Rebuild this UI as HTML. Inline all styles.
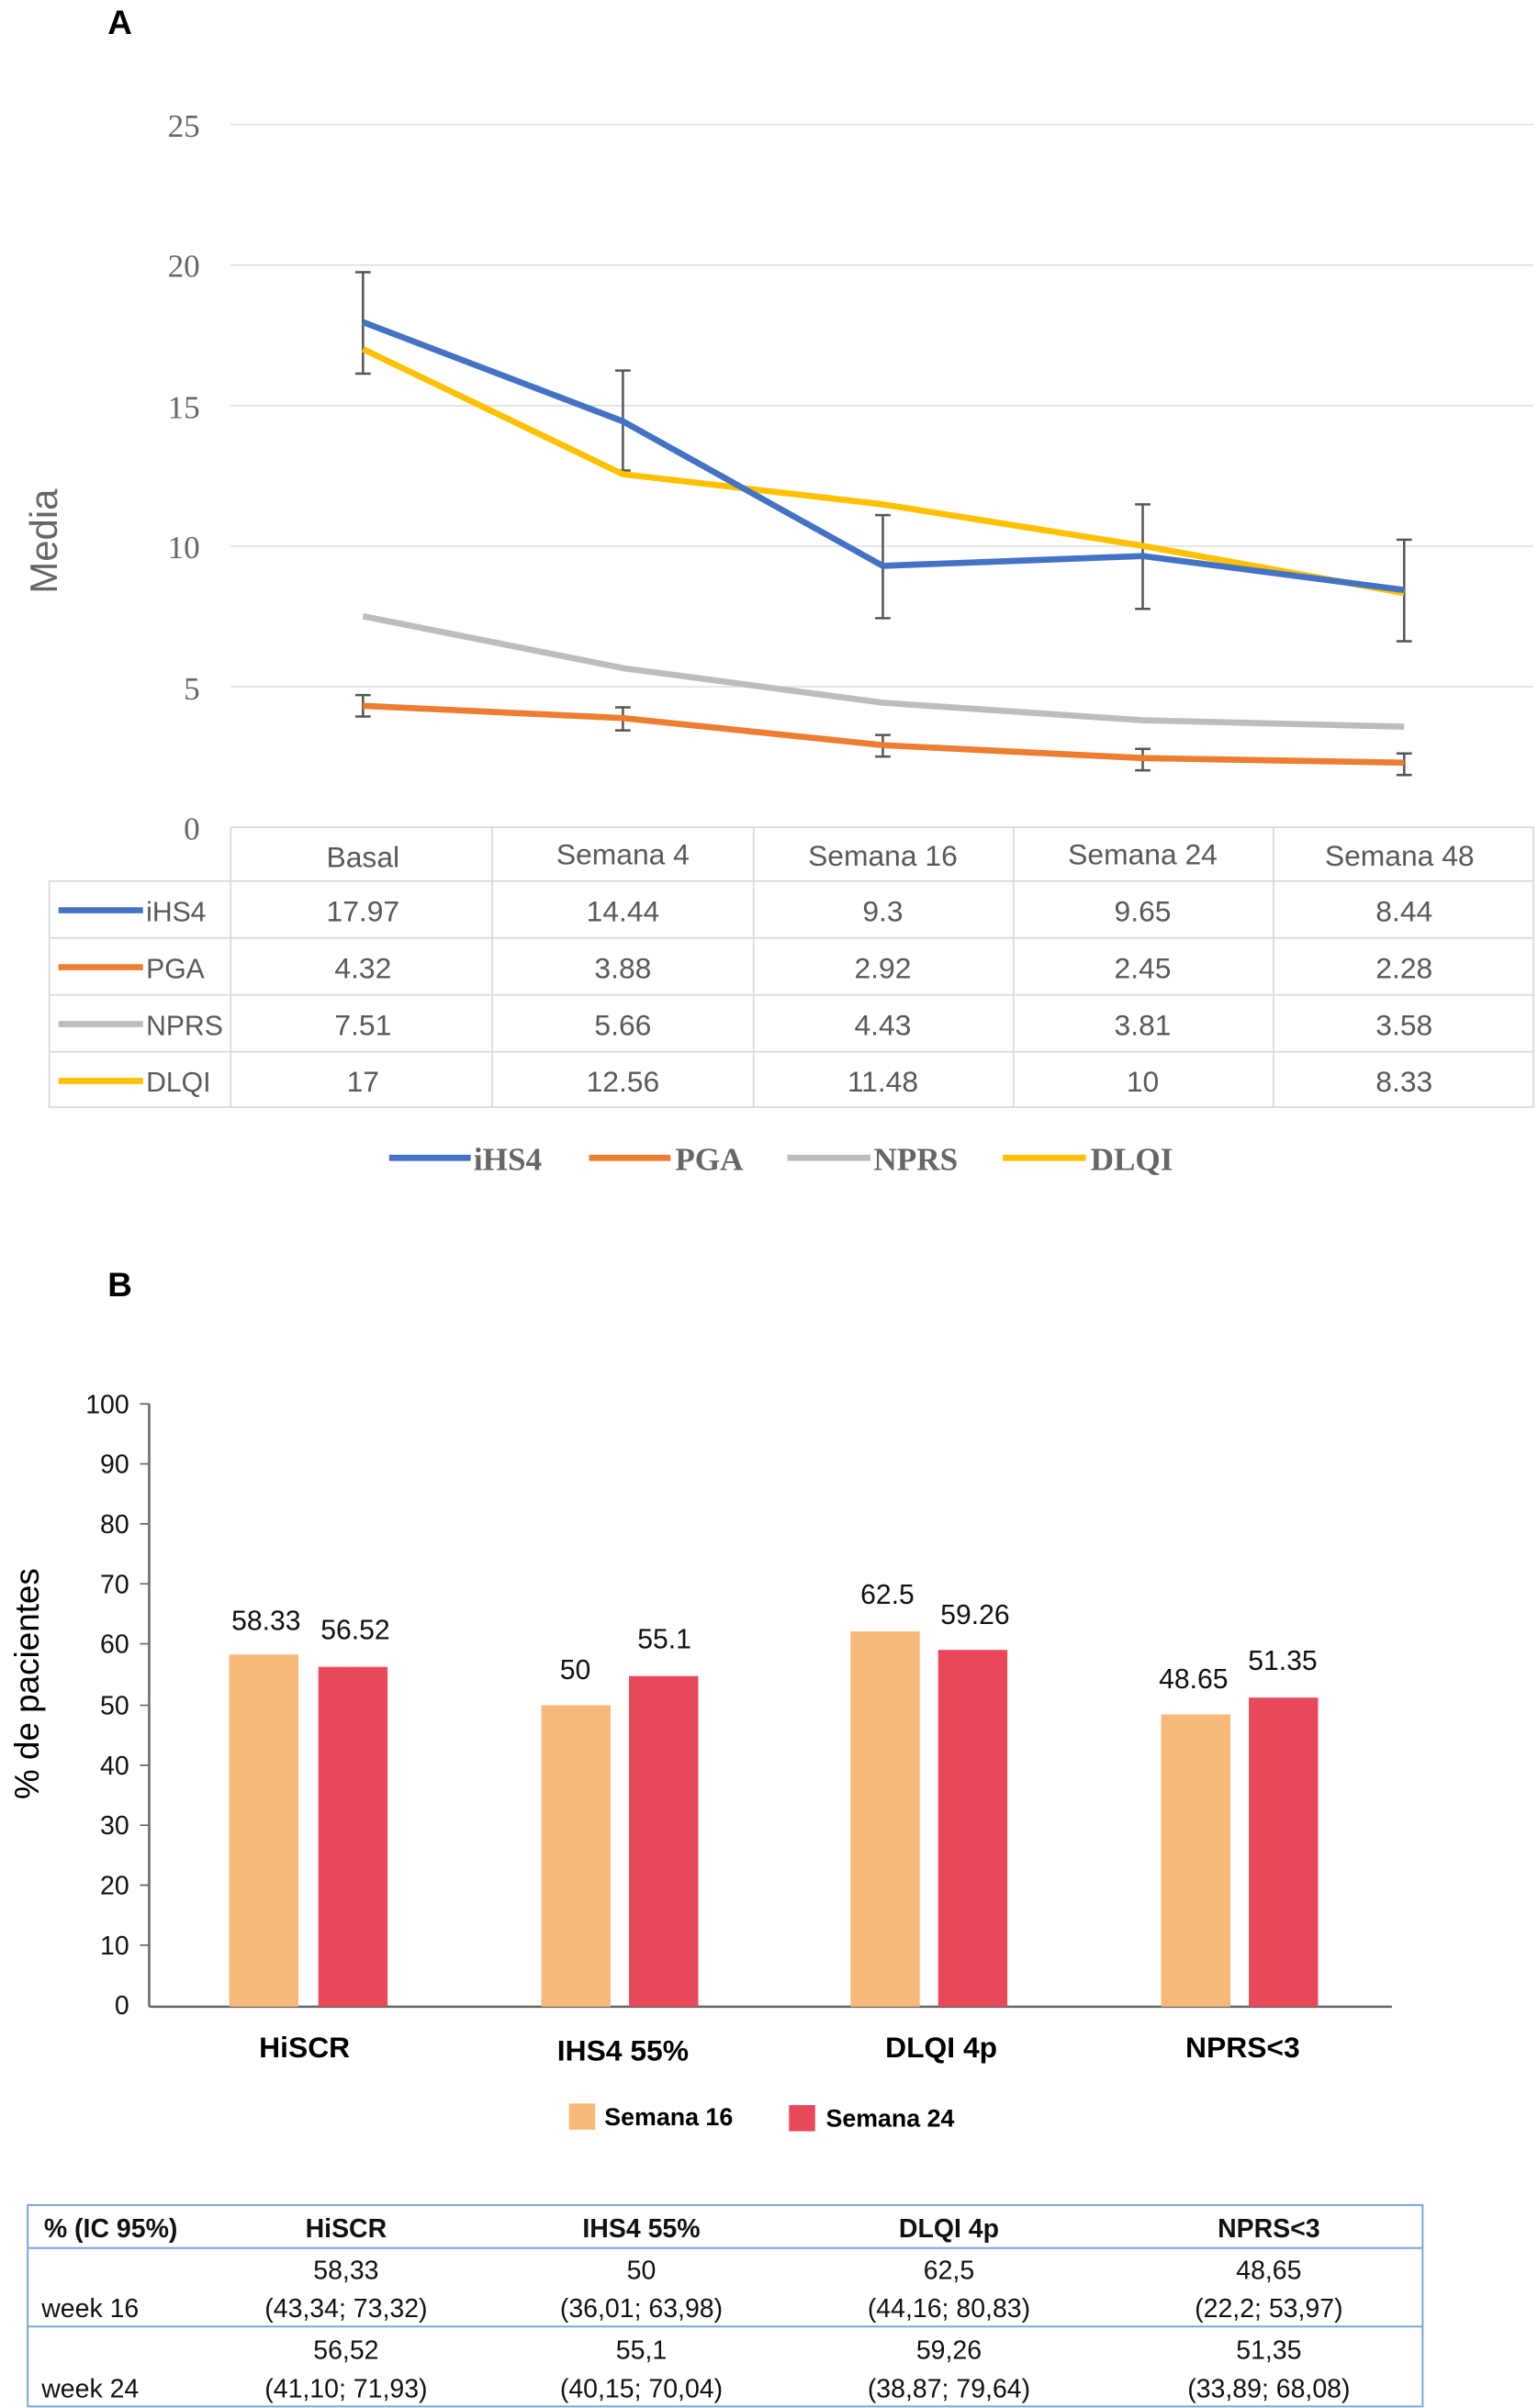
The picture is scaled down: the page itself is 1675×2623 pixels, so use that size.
<!DOCTYPE html>
<html><head><meta charset="utf-8"><style>html,body{margin:0;padding:0;background:#fff}svg{display:block}</style></head>
<body>
<svg width="1675" height="2623" viewBox="0 0 1000 1566" xmlns="http://www.w3.org/2000/svg" font-family="Liberation Sans, sans-serif">
<rect width="1000" height="1566" fill="#fff"/>
<text x="70" y="22" font-size="22" font-weight="bold">A</text>
<g stroke="#e0e0e0" stroke-width="1">
<line x1="150" y1="81" x2="997" y2="81"/><line x1="150" y1="172.4" x2="997" y2="172.4"/><line x1="150" y1="263.8" x2="997" y2="263.8"/><line x1="150" y1="355.2" x2="997" y2="355.2"/><line x1="150" y1="446.6" x2="997" y2="446.6"/>
</g>
<g font-family="Liberation Serif, serif" font-size="21" fill="#666" text-anchor="end">
<text x="130" y="89">25</text><text x="130" y="180">20</text><text x="130" y="272">15</text><text x="130" y="363">10</text><text x="130" y="455">5</text><text x="130" y="546">0</text>
</g>
<text transform="translate(37,352) rotate(-90)" font-size="25" fill="#666" text-anchor="middle">Media</text>
<g stroke="#555" stroke-width="1.5">
<path d="M236 177V243M231 177H241M231 243H241M405 241V306M400 241H410M400 306H410M574 335V402M569 335H579M569 402H579M743 328V396M738 328H748M738 396H748M913 351V417M908 351H918M908 417H918"/>
<path d="M236 452V466M231 452H241M231 466H241M405 460V475M400 460H410M400 475H410M574 478V492M569 478H579M569 492H579M743 487V501M738 487H748M738 501H748M913 490V504M908 490H918M908 504H918"/>
</g>
<g fill="none" stroke-width="4" stroke-linejoin="round">
<polyline stroke="#BDBDBD" points="236,400.7 405,434.5 574,457 743,468.4 913,472.6"/>
<polyline stroke="#ED7D31" points="236,459 405,467 574,484.6 743,493 913,496"/>
<polyline stroke="#FFC000" points="236,227 405,308.4 574,328 743,355 913,385.7"/>
<polyline stroke="#4472C4" points="236,209.5 405,274 574,368 743,361.6 913,383.7"/>
</g>
<g stroke="#d9d9d9" stroke-width="1" fill="none">
<path d="M150 538H997V720H32V573H997M32 610H997M32 647H997M32 684H997M150 538V720M320 538V720M490 538V720M659 538V720M828 538V720M997 538V720"/>
</g>
<g font-size="19" fill="#595959" text-anchor="middle">
<text x="236" y="564">Basal</text><text x="405" y="562">Semana 4</text><text x="574" y="563">Semana 16</text><text x="743" y="562">Semana 24</text><text x="910" y="563">Semana 48</text>
<text x="236" y="599">17.97</text><text x="405" y="599">14.44</text><text x="574" y="599">9.3</text><text x="743" y="599">9.65</text><text x="913" y="599">8.44</text>
<text x="236" y="636">4.32</text><text x="405" y="636">3.88</text><text x="574" y="636">2.92</text><text x="743" y="636">2.45</text><text x="913" y="636">2.28</text>
<text x="236" y="673">7.51</text><text x="405" y="673">5.66</text><text x="574" y="673">4.43</text><text x="743" y="673">3.81</text><text x="913" y="673">3.58</text>
<text x="236" y="710">17</text><text x="405" y="710">12.56</text><text x="574" y="710">11.48</text><text x="743" y="710">10</text><text x="913" y="710">8.33</text>
</g>
<g stroke-width="4"><line x1="38" y1="592" x2="93" y2="592" stroke="#4472C4"/><line x1="38" y1="629" x2="93" y2="629" stroke="#ED7D31"/><line x1="38" y1="666" x2="93" y2="666" stroke="#BDBDBD"/><line x1="38" y1="703" x2="93" y2="703" stroke="#FFC000"/></g>
<g font-size="18" fill="#595959"><text x="95" y="599">iHS4</text><text x="95" y="636">PGA</text><text x="95" y="673">NPRS</text><text x="95" y="710">DLQI</text></g>
<g stroke-width="4"><line x1="253" y1="753" x2="306" y2="753" stroke="#4472C4"/><line x1="383" y1="753" x2="436" y2="753" stroke="#ED7D31"/><line x1="512" y1="753" x2="566" y2="753" stroke="#BDBDBD"/><line x1="652" y1="753" x2="706" y2="753" stroke="#FFC000"/></g>
<g font-family="Liberation Serif, serif" font-size="21" font-weight="bold" fill="#666"><text x="308" y="761">iHS4</text><text x="439" y="761">PGA</text><text x="568" y="761">NPRS</text><text x="709" y="761">DLQI</text></g>

<text x="70" y="843" font-size="22" font-weight="bold">B</text>
<line x1="97" y1="913" x2="97" y2="1305" stroke="#666" stroke-width="1.5"/>
<line x1="97" y1="1305" x2="905" y2="1305" stroke="#666" stroke-width="1.5"/>
<g font-size="17" text-anchor="end" fill="#111">
<text x="84" y="919">100</text><text x="84" y="958">90</text><text x="84" y="997">80</text><text x="84" y="1036">70</text><text x="84" y="1075">60</text><text x="84" y="1115">50</text><text x="84" y="1154">40</text><text x="84" y="1193">30</text><text x="84" y="1232">20</text><text x="84" y="1271">10</text><text x="84" y="1310">0</text>
</g>
<g stroke="#666"><path d="M91 913H97M91 952H97M91 991H97M91 1030H97M91 1069H97M91 1109H97M91 1148H97M91 1187H97M91 1226H97M91 1265H97"/></g>
<text transform="translate(25,1095) rotate(-90)" font-size="22" text-anchor="middle">% de pacientes</text>
<g fill="#F7B87A"><rect x="149" y="1076" width="45" height="229"/><rect x="352" y="1109" width="45" height="196"/><rect x="553" y="1061" width="45" height="244"/><rect x="755" y="1115" width="45" height="190"/></g>
<g fill="#E8485A"><rect x="207" y="1084" width="45" height="221"/><rect x="409" y="1090" width="45" height="215"/><rect x="610" y="1073" width="45" height="232"/><rect x="812" y="1104" width="45" height="201"/></g>
<g font-size="18" text-anchor="middle" fill="#111">
<text x="173" y="1060">58.33</text><text x="231" y="1066">56.52</text><text x="374" y="1092">50</text><text x="432" y="1072">55.1</text><text x="577" y="1043">62.5</text><text x="634" y="1056">59.26</text><text x="776" y="1098">48.65</text><text x="834" y="1086">51.35</text>
</g>
<g font-size="19" font-weight="bold" text-anchor="middle"><text x="198" y="1338">HiSCR</text><text x="405" y="1340">IHS4 55%</text><text x="612" y="1338">DLQI 4p</text><text x="808" y="1338">NPRS&lt;3</text></g>
<rect x="370" y="1368" width="17" height="17" fill="#F7B87A"/><rect x="513" y="1369" width="17" height="17" fill="#E8485A"/>
<g font-size="16" font-weight="bold"><text x="393" y="1382">Semana 16</text><text x="537" y="1383">Semana 24</text></g>
<g stroke="#7aa6d8" stroke-width="1.2" fill="none"><rect x="18" y="1434" width="907" height="131"/><line x1="18" y1="1462" x2="925" y2="1462"/><line x1="18" y1="1513" x2="925" y2="1513"/></g>
<g font-size="17" text-anchor="middle" fill="#111">
<g font-weight="bold"><text x="72" y="1455">% (IC 95%)</text><text x="225" y="1455">HiSCR</text><text x="417" y="1455">IHS4 55%</text><text x="617" y="1455">DLQI 4p</text><text x="825" y="1455">NPRS&lt;3</text></g>
<text x="225" y="1482">58,33</text><text x="225" y="1507">(43,34; 73,32)</text><text x="417" y="1482">50</text><text x="417" y="1507">(36,01; 63,98)</text><text x="617" y="1482">62,5</text><text x="617" y="1507">(44,16; 80,83)</text><text x="825" y="1482">48,65</text><text x="825" y="1507">(22,2; 53,97)</text>
<text x="225" y="1534">56,52</text><text x="225" y="1559">(41,10; 71,93)</text><text x="417" y="1534">55,1</text><text x="417" y="1559">(40,15; 70,04)</text><text x="617" y="1534">59,26</text><text x="617" y="1559">(38,87; 79,64)</text><text x="825" y="1534">51,35</text><text x="825" y="1559">(33,89; 68,08)</text>
</g>
<g font-size="17" fill="#111"><text x="27" y="1507">week 16</text><text x="27" y="1559">week 24</text></g>
</svg>
</body></html>
